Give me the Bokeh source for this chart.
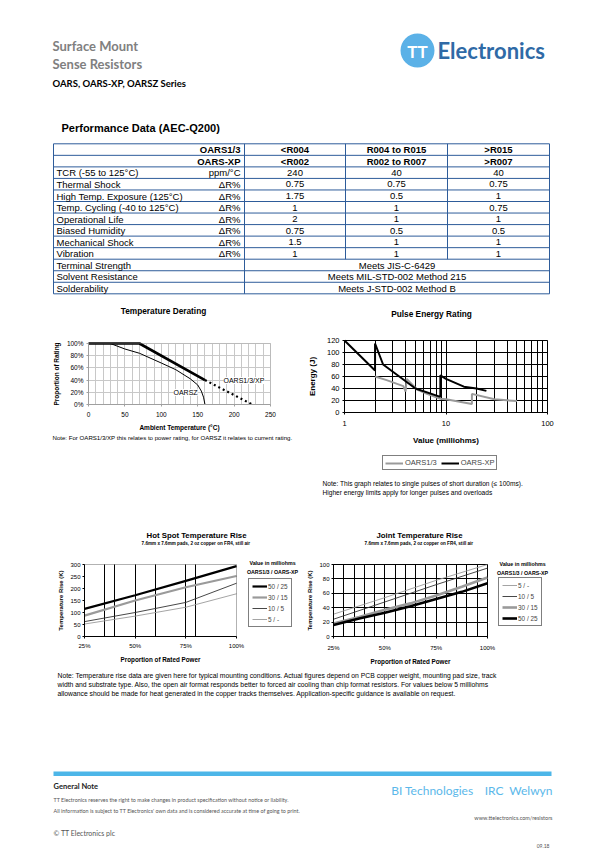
import numpy as np
from bokeh.plotting import figure
from bokeh.layouts import column, row
from bokeh.models import (Range1d, FixedTicker, PrintfTickFormatter, NumeralTickFormatter,
                          Label, Legend, LegendItem, BoxAnnotation)
from bokeh.core.properties import value
from bokeh.embed import file_html
from bokeh.resources import INLINE

ARIAL = "Liberation Sans"
HEAD = "Lato"

# ---------------- table data ----------------
oars13_ranges = ["<R004", "R004 to R015", ">R015"]
oarsxp_ranges = ["<R002", "R002 to R007", ">R007"]
test_names = ["TCR (-55 to 125°C)", "Thermal Shock", "High Temp. Exposure (125°C)",
              "Temp. Cycling (-40 to 125°C)", "Operational Life", "Biased Humidity",
              "Mechanical Shock", "Vibration"]
test_units = ["ppm/°C", "ΔR%", "ΔR%", "ΔR%", "ΔR%", "ΔR%", "ΔR%", "ΔR%"]
val_low = ["240", "0.75", "1.75", "1", "2", "0.75", "1.5", "1"]
val_mid = ["40", "0.75", "0.5", "1", "1", "0.5", "1", "1"]
val_high = ["40", "0.75", "1", "0.75", "1", "0.5", "1", "1"]
std_names = ["Terminal Strength", "Solvent Resistance", "Solderability"]
std_results = ["Meets JIS-C-6429", "Meets MIL-STD-002 Method 215", "Meets J-STD-002 Method B"]

# ---------------- temperature derating ----------------
derate_temp_xp = [0, 70, 160]
derate_pct_xp = [100, 100, 40]
derate_temp_xp_ext = [160, 225]
derate_pct_xp_ext = [40, 0]
derate_temp_z = [0, 30, 50, 70, 100, 120, 140, 150, 155, 158, 160]
derate_pct_z = [100, 100, 91, 84, 68, 57, 42, 32, 22, 12, 0]
derate_ticks_x = [0, 50, 100, 150, 200, 250]
derate_ticks_y = [0, 20, 40, 60, 80, 100]
derate_grid_x = [0, 10, 20, 30, 40, 50, 60, 70, 80, 90, 100, 110, 120, 130, 140, 150,
                 160, 170, 180, 190, 200, 210, 220, 230, 240, 250]

# ---------------- pulse energy ----------------
pulse_mohm_13 = [2, 2.6, 3.8, 4.0, 4.1, 5.2, 6.5, 8.8, 10, 18, 18, 30, 50]
pulse_j_13 = [60, 54, 44, 35, 56, 38, 31, 23, 22, 14, 31, 22, 19]
pulse_mohm_xp = [1, 2, 2, 2.4, 5, 8.8, 8.8, 10, 15, 20, 25]
pulse_j_xp = [120, 70, 115, 80, 40, 26, 62, 56, 43, 40, 36]
pulse_ticks_x = [1, 10, 100]
pulse_minor_x = [2, 3, 4, 5, 6, 7, 8, 9, 20, 30, 40, 50, 60, 70, 80, 90]
pulse_ticks_y = [0, 20, 40, 60, 80, 100, 120]

# ---------------- hot spot temperature rise ----------------
hot_power = [0.25, 0.50, 0.75, 1.00]
hot_50_25 = [115, 172, 232, 293]
hot_30_15 = [87, 150, 205, 252]
hot_10_5 = [62, 100, 142, 222]
hot_5 = [52, 85, 122, 178]
hot_ticks_x = [0.25, 0.50, 0.75, 1.00]
hot_grid_x = [0.35, 0.40, 0.50, 0.60, 0.75, 0.80]
hot_ticks_y = [0, 50, 100, 150, 200, 250, 300]

# ---------------- joint temperature rise ----------------
joint_power_thin = [0.25, 0.50, 0.75, 1.00]
joint_5 = [31, 54, 78, 100]
joint_10_5 = [24, 48, 72, 95]
joint_power_thick = [0.25, 0.375, 0.50, 0.625, 0.75, 0.875, 1.00]
joint_30_15 = [18, 27, 37, 46, 57, 69, 82]
joint_50_25 = [16, 25, 33, 42, 52, 62, 74]
joint_ticks_x = [0.25, 0.50, 0.75, 1.00]
joint_grid_x = [0.25, 0.30, 0.35, 0.40, 0.45, 0.50, 0.55, 0.60, 0.65, 0.70, 0.75,
                0.80, 0.85, 0.90, 0.95, 1.00]
joint_ticks_y = [0, 20, 40, 60, 80, 100]

GRAY_LINE = "#9a9a9a"
TBL = "#2e5c9a"


def txt(p, x, y, s, size, color="black", font=ARIAL, bold=False, align="left",
        baseline="middle", angle=0):
    p.text(x=[x], y=[y], text=[s], text_font=value(font), text_font_size=size,
           text_font_style="bold" if bold else "normal", text_color=color,
           text_align=align, text_baseline=baseline, angle=angle)


def mapper(box, xr, yr, xlog=False):
    fx0, fx1, fy_top, fy_bot = box

    def fx(px):
        t = (px - fx0) / (fx1 - fx0)
        if xlog:
            a, b = np.log10(xr[0]), np.log10(xr[1])
            return float(10 ** (a + t * (b - a)))
        return xr[0] + t * (xr[1] - xr[0])

    def fy(py):
        t = (fy_bot - py) / (fy_bot - fy_top)
        return yr[0] + t * (yr[1] - yr[0])
    return fx, fy


def lab(p, m, px, py, s, size, bold=False, align="left", color="black", bg=None,
        font=ARIAL):
    fx, fy = m
    p.add_layout(Label(x=fx(px), y=fy(py), text=s, text_font=font, text_font_size=size,
                       text_font_style="bold" if bold else "normal", text_color=color,
                       text_align=align, text_baseline="middle",
                       background_fill_color=bg))


def style_axis(ax, tick_size, label_size, color, tick_out=2, standoff=2, label_standoff=4):
    ax.major_label_text_font = ARIAL
    ax.major_label_text_font_size = tick_size
    ax.major_label_text_color = "black"
    ax.axis_label_text_font = ARIAL
    ax.axis_label_text_font_size = label_size
    ax.axis_label_text_font_style = "bold"
    ax.axis_label_text_color = "black"
    ax.axis_line_color = color
    ax.major_tick_line_color = color
    ax.major_tick_out = tick_out
    ax.major_tick_in = 0
    ax.minor_tick_line_color = None
    ax.major_label_standoff = standoff
    ax.axis_label_standoff = label_standoff


def page_fig(w, h, y0, y1):
    p = figure(width=w, height=h, x_range=Range1d(0, w), y_range=Range1d(y1, y0),
               output_backend="svg", toolbar_location=None, min_border=0,
               x_axis_location=None, y_axis_location=None, outline_line_color=None)
    p.grid.visible = False
    return p


def chart_fig(origin, W, H, box, xr, yr, xlog=False, outline="black"):
    """Figure whose frame is the whole canvas; the plot box sits at `box` (page px)."""
    ox, oy = origin
    bx0, bx1, by0, by1 = box[0] - ox, box[1] - ox, box[2] - oy, box[3] - oy
    if xlog:
        a, b = np.log10(xr[0]), np.log10(xr[1])
        k = (b - a) / (bx1 - bx0)
        xs, xe = 10 ** (a - bx0 * k), 10 ** (a + (W - bx0) * k)
    else:
        k = (xr[1] - xr[0]) / (bx1 - bx0)
        xs, xe = xr[0] - bx0 * k, xr[0] + (W - bx0) * k
    k = (yr[1] - yr[0]) / (by1 - by0)
    ys, ye = yr[0] - (H - by1) * k, yr[1] + by0 * k
    p = figure(width=W, height=H, x_range=Range1d(xs, xe), y_range=Range1d(ys, ye),
               x_axis_type="log" if xlog else "linear", min_border=0,
               output_backend="svg", toolbar_location=None, outline_line_color=None)
    p.xaxis.fixed_location = yr[0]
    p.xaxis.bounds = xr
    p.yaxis.fixed_location = xr[0]
    p.yaxis.bounds = yr
    p.xgrid.cross_bounds = yr
    p.ygrid.cross_bounds = xr
    p.add_layout(BoxAnnotation(left=xr[0], right=xr[1], bottom=yr[0], top=yr[1],
                               fill_color=None, line_color=outline, line_width=1))
    return p, mapper(box, xr, yr, xlog)


# ================= top section (page y 0..300) =================
top = page_fig(607, 300, 0, 300)
txt(top, 52, 45, "Surface Mount", "13px", color="#808080", font=HEAD, bold=True)
txt(top, 52, 63, "Sense Resistors", "13px", color="#808080", font=HEAD, bold=True)
txt(top, 52, 83, "OARS, OARS-XP, OARSZ Series", "9.5px", color="black", font=HEAD, bold=True)
top.circle(x=[417], y=[50], radius=17, fill_color="#5bb1e7", line_color=None)
txt(top, 417, 51, "TT", "17px", color="white", font=HEAD, bold=True, align="center")
txt(top, 437, 50, "Electronics", "22px", color="#2f6aa6", font=HEAD, bold=True)

txt(top, 61, 127, "Performance Data (AEC-Q200)", "11px", bold=True)

T_TOP, T_ROW = 143.3, 11.54
T_L, T_C1, T_C2, T_C3, T_R = 53, 244, 345, 447, 549
n_rows = 2 + len(test_names) + len(std_names)
row_y = [T_TOP + i * T_ROW for i in range(n_rows + 1)]
top.segment(x0=[T_L] * len(row_y), y0=row_y, x1=[T_R] * len(row_y), y1=row_y,
            line_color=TBL, line_width=1)
top.segment(x0=[T_L, T_C1, T_R], y0=[row_y[0]] * 3, x1=[T_L, T_C1, T_R],
            y1=[row_y[-1]] * 3, line_color=TBL, line_width=1)
n_part = 2 + len(test_names)
top.segment(x0=[T_C2, T_C3], y0=[row_y[0]] * 2, x1=[T_C2, T_C3],
            y1=[row_y[n_part]] * 2, line_color=TBL, line_width=1)

col_cx = [(T_C1 + T_C2) / 2, (T_C2 + T_C3) / 2, (T_C3 + T_R) / 2]
FS = "9.5px"


def rc(i):
    return T_TOP + (i + 0.5) * T_ROW + 0.3


txt(top, 240, rc(0), "OARS1/3", FS, bold=True, align="right")
txt(top, 240, rc(1), "OARS-XP", FS, bold=True, align="right")
for j in range(3):
    txt(top, col_cx[j], rc(0), oars13_ranges[j], FS, bold=True, align="center")
    txt(top, col_cx[j], rc(1), oarsxp_ranges[j], FS, bold=True, align="center")
for k, nm in enumerate(test_names):
    i = 2 + k
    txt(top, 56, rc(i), nm, FS)
    txt(top, 240, rc(i), test_units[k], FS, align="right")
    for j, vals in enumerate([val_low, val_mid, val_high]):
        txt(top, col_cx[j], rc(i), vals[k], FS, align="center")
for k, nm in enumerate(std_names):
    i = n_part + k
    txt(top, 56, rc(i), nm, FS)
    txt(top, (T_C1 + T_R) / 2, rc(i), std_results[k], FS, align="center")

# ================= derating (page x 0..305, y 300..500) =================
der, m_der = chart_fig((0, 300), 305, 200, (88, 270, 343, 404), (0, 250), (0, 100),
                       outline="#a0a0a0")
der.xaxis.ticker = FixedTicker(ticks=derate_ticks_x, minor_ticks=derate_grid_x)
der.yaxis.ticker = FixedTicker(ticks=derate_ticks_y)
der.yaxis.formatter = PrintfTickFormatter(format="%d%%")
der.xaxis.axis_label = "Ambient Temperature (°C)"
der.yaxis.axis_label = "Proportion of Rating"
style_axis(der.xaxis[0], "6.5px", "6.5px", "#a0a0a0", tick_out=2, standoff=3, label_standoff=4)
style_axis(der.yaxis[0], "6.5px", "6.5px", "#a0a0a0", tick_out=2, standoff=3, label_standoff=4)
der.xgrid.grid_line_color = "#c8c8c8"
der.xgrid.minor_grid_line_color = "#c8c8c8"
der.ygrid.grid_line_color = "#c8c8c8"
der.line(derate_temp_z, derate_pct_z, line_color="black", line_width=1)
der.line(derate_temp_xp, derate_pct_xp, line_color="black", line_width=2.6)
der.line(derate_temp_xp_ext, derate_pct_xp_ext, line_color="black", line_width=2.2,
         line_dash="2 3")
lab(der, m_der, 163, 310, "Temperature Derating", "8.3px", bold=True, align="center")
lab(der, m_der, 223, 380, "OARS1/3/XP", "7px", bg="white")
lab(der, m_der, 173, 392, "OARSZ", "7px", bg="white")
lab(der, m_der, 52, 437, "Note: For OARS1/3/XP this relates to power rating, for OARSZ it relates to current rating.", "6.1px")

# ================= pulse energy (page x 305..607, y 300..500) =================
pul, m_pul = chart_fig((305, 300), 302, 200, (344, 547, 340, 412), (1, 100), (0, 120),
                       xlog=True, outline="black")
pul.xaxis.ticker = FixedTicker(ticks=pulse_ticks_x, minor_ticks=pulse_minor_x)
pul.xaxis.formatter = PrintfTickFormatter(format="%d")
pul.yaxis.ticker = FixedTicker(ticks=pulse_ticks_y)
pul.xaxis.axis_label = "Value (milliohms)"
pul.yaxis.axis_label = "Energy (J)"
style_axis(pul.xaxis[0], "7.5px", "8px", "black", tick_out=2, standoff=4, label_standoff=7)
style_axis(pul.yaxis[0], "7.5px", "8px", "black", tick_out=2, standoff=3, label_standoff=7)
pul.xgrid.grid_line_color = "black"
pul.xgrid.minor_grid_line_color = "black"
pul.ygrid.grid_line_color = "black"
r13 = pul.line(pulse_mohm_13, pulse_j_13, line_color=GRAY_LINE, line_width=2)
rxp = pul.line(pulse_mohm_xp, pulse_j_xp, line_color="black", line_width=2)
leg_p = Legend(items=[LegendItem(label="OARS1/3", renderers=[r13]),
                      LegendItem(label="OARS-XP", renderers=[rxp])],
               location=(77, 30), orientation="horizontal", margin=0, padding=2,
               spacing=4, glyph_width=18, glyph_height=8, label_height=8, label_standoff=2,
               label_text_font=ARIAL, label_text_font_size="7.5px",
               border_line_color="black", border_line_width=1)
pul.add_layout(leg_p)
lab(pul, m_pul, 431, 313, "Pulse Energy Rating", "8.3px", bold=True, align="center")
lab(pul, m_pul, 322, 483, "Note: This graph relates to single pulses of short duration (≤ 100ms).", "6.6px")
lab(pul, m_pul, 322, 492, "Higher energy limits apply for longer pulses and overloads", "6.6px")

# ================= hot spot (page x 0..300, y 500..670) =================
hot, m_hot = chart_fig((0, 500), 300, 170, (84, 236, 564, 636), (0.25, 1.0), (0, 300))
hot.xaxis.ticker = FixedTicker(ticks=hot_ticks_x)
hot.xaxis.formatter = NumeralTickFormatter(format="0%")
hot.yaxis.ticker = FixedTicker(ticks=hot_ticks_y)
hot.xaxis.axis_label = "Proportion of Rated Power"
hot.yaxis.axis_label = "Temperature Rise (K)"
style_axis(hot.xaxis[0], "6px", "6.3px", "black", tick_out=2, standoff=4, label_standoff=4)
style_axis(hot.yaxis[0], "6px", "6px", "black", tick_out=2, standoff=2, label_standoff=3)
hot.xgrid.ticker = FixedTicker(ticks=hot_grid_x)
hot.xgrid.grid_line_color = "black"
hot.ygrid.visible = False
h1 = hot.line(hot_power, hot_50_25, line_color="black", line_width=2.2)
h2 = hot.line(hot_power, hot_30_15, line_color=GRAY_LINE, line_width=2.2)
h3 = hot.line(hot_power, hot_10_5, line_color="#333333", line_width=0.9)
h4 = hot.line(hot_power, hot_5, line_color=GRAY_LINE, line_width=0.9)
leg_h = Legend(items=[LegendItem(label="50 / 25", renderers=[h1]),
                      LegendItem(label="30 / 15", renderers=[h2]),
                      LegendItem(label="10 / 5", renderers=[h3]),
                      LegendItem(label="5 / -", renderers=[h4])],
               location=(248, 43), margin=0, padding=3, spacing=3, glyph_width=15,
               glyph_height=8, label_height=8, label_standoff=1,
               label_text_font=ARIAL, label_text_font_size="6.4px",
               border_line_color="black", border_line_width=1)
hot.add_layout(leg_h)
lab(hot, m_hot, 196, 535, "Hot Spot Temperature Rise", "7.8px", bold=True, align="center")
lab(hot, m_hot, 196, 543, "7.6mm x  7.6mm pads, 2 oz copper on FR4, still air", "4.6px", bold=True, align="center")
lab(hot, m_hot, 272, 562, "Value in milliohms", "5.3px", bold=True, align="center")
lab(hot, m_hot, 272, 571, "OARS1/3 / OARS-XP", "5.3px", bold=True, align="center")

# ================= joint (page x 300..607, y 500..670) =================
jnt, m_jnt = chart_fig((300, 500), 307, 170, (333, 487, 564, 636), (0.25, 1.0), (0, 100))
jnt.xaxis.ticker = FixedTicker(ticks=joint_ticks_x, minor_ticks=joint_grid_x)
jnt.xaxis.formatter = NumeralTickFormatter(format="0%")
jnt.yaxis.ticker = FixedTicker(ticks=joint_ticks_y)
jnt.xaxis.axis_label = "Proportion of Rated Power"
jnt.yaxis.axis_label = "Temperature Rise (K)"
style_axis(jnt.xaxis[0], "6px", "6.3px", "black", tick_out=2, standoff=4, label_standoff=4)
style_axis(jnt.yaxis[0], "6px", "6px", "black", tick_out=2, standoff=2, label_standoff=3)
jnt.xgrid.grid_line_color = "black"
jnt.xgrid.minor_grid_line_color = "black"
jnt.ygrid.grid_line_color = "black"
j1 = jnt.line(joint_power_thin, joint_5, line_color=GRAY_LINE, line_width=0.9)
j2 = jnt.line(joint_power_thin, joint_10_5, line_color="#333333", line_width=0.9)
j3 = jnt.line(joint_power_thick, joint_30_15, line_color=GRAY_LINE, line_width=2.6)
j4 = jnt.line(joint_power_thick, joint_50_25, line_color="black", line_width=2.6)
leg_j = Legend(items=[LegendItem(label="5 / -", renderers=[j1]),
                      LegendItem(label="10 / 5", renderers=[j2]),
                      LegendItem(label="30 / 15", renderers=[j3]),
                      LegendItem(label="50 / 25", renderers=[j4])],
               location=(198, 44), margin=0, padding=3, spacing=3, glyph_width=15,
               glyph_height=8, label_height=8, label_standoff=1,
               label_text_font=ARIAL, label_text_font_size="6.4px",
               border_line_color="black", border_line_width=1)
jnt.add_layout(leg_j)
lab(jnt, m_jnt, 419, 535, "Joint Temperature Rise", "7.8px", bold=True, align="center")
lab(jnt, m_jnt, 419, 543, "7.6mm x  7.6mm pads, 2 oz copper on FR4, still air", "4.6px", bold=True, align="center")
lab(jnt, m_jnt, 522, 563, "Value in milliohms", "5.3px", bold=True, align="center")
lab(jnt, m_jnt, 522, 572, "OARS1/3 / OARS-XP", "5.3px", bold=True, align="center")

# ================= bottom section (page y 670..853) =================
bot = page_fig(607, 183, 670, 853)
note_lines = [
    "Note: Temperature rise data are given here for typical mounting conditions. Actual figures depend on PCB copper weight, mounting pad size, track",
    "width and substrate type. Also, the open air format responds better to forced air cooling than chip format resistors. For values below 5 milliohms",
    "allowance should be made for heat generated in the copper tracks themselves. Application-specific guidance is available on request.",
]
for k, s in enumerate(note_lines):
    txt(bot, 57, 675 + 9 * k, s, "6.8px")
bot.quad(left=[53], right=[551], top=[771], bottom=[775.5], fill_color="#4db6e8", line_color=None)
txt(bot, 53, 786, "General Note", "7.5px", color="#222222", font=HEAD, bold=True)
txt(bot, 53, 799, "TT Electronics reserves the right to make changes in product specification without notice or liability.", "5.4px", color="#555555", font=HEAD)
txt(bot, 53, 810, "All information is subject to TT Electronics' own data and is considered accurate at time of going to print.", "5.4px", color="#555555", font=HEAD)
txt(bot, 53, 832, "© TT Electronics plc", "7px", color="#555555", font=HEAD)
txt(bot, 473, 790, "BI Technologies", "12px", color="#5bb8ea", font=HEAD, align="right")
txt(bot, 503, 790, "IRC", "12px", color="#5bb8ea", font=HEAD, align="right")
txt(bot, 552, 790, "Welwyn", "12px", color="#5bb8ea", font=HEAD, align="right")
txt(bot, 552, 817, "www.ttelectronics.com/resistors", "5.5px", color="#555555", font=HEAD, align="right")
txt(bot, 549, 845, "09.18", "5px", color="#555555", font=HEAD, align="right")

layout = column(top, row(der, pul), row(hot, jnt), bot)
open("out.html", "w").write(file_html(layout, INLINE))
